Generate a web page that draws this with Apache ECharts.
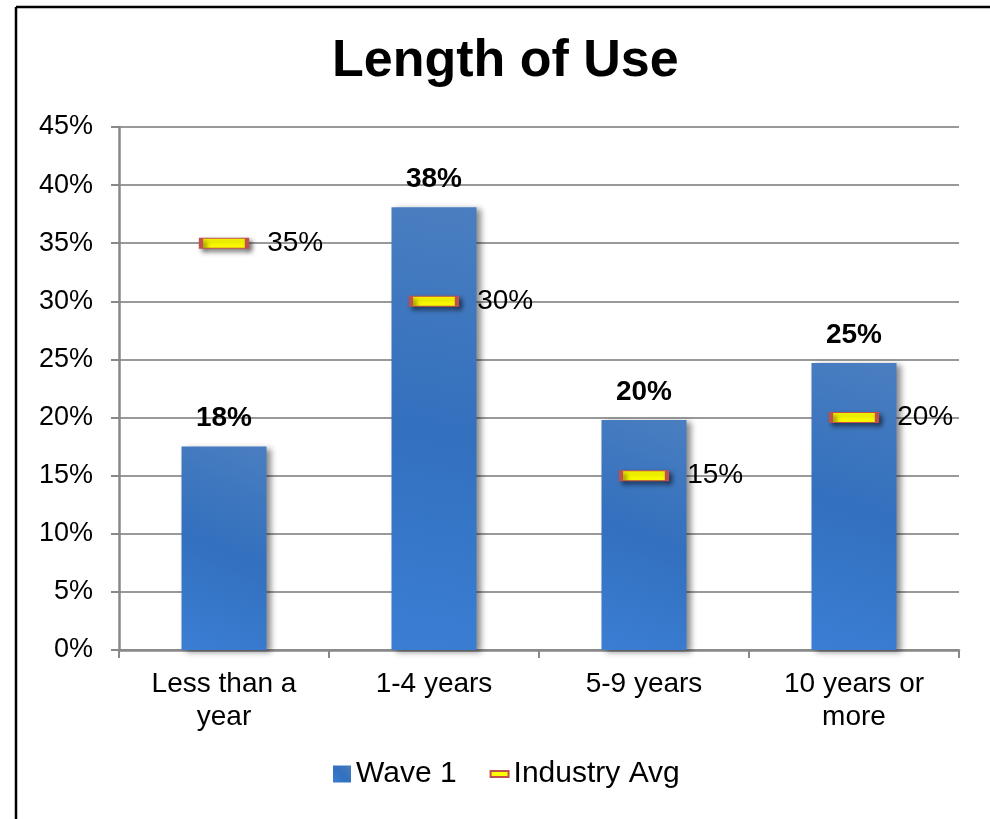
<!DOCTYPE html>
<html>
<head>
<meta charset="utf-8">
<script src="https://cdn.jsdelivr.net/npm/echarts@6/dist/echarts.min.js"></script>
<style>
  html, body { margin: 0; padding: 0; background: #fff; }
  #chart { width: 990px; height: 819px; }
</style>
</head>
<body>
<div id="chart"></div>
<script>
// Survey: how long respondents have used the product
const categories = ['Less than a\nyear', '1-4 years', '5-9 years', '10 years or\nmore'];
const wave1 = [17.5, 38.1, 19.8, 24.7];
const industryAvg = [35, 30, 15, 20];
const yTicks = { min: 0, max: 45, interval: 5 };

const FONT = 'Liberation Sans, Arial, sans-serif';
const chart = echarts.init(document.getElementById('chart'));

chart.setOption({
  backgroundColor: '#ffffff',
  animation: false,
  textStyle: { fontFamily: FONT, color: '#000' },
  title: {
    text: 'Length of Use',
    left: 327,
    top: 31,
    textStyle: { fontFamily: FONT, fontSize: 52, fontWeight: 'bold', color: '#000' }
  },
  grid: { left: 119, right: 31, top: 127, bottom: 169, containLabel: false },
  legend: {
    bottom: 25,
    left: 328,
    itemWidth: 18,
    itemHeight: 17,
    itemGap: 33,
    textStyle: { fontFamily: FONT, fontSize: 30, color: '#000' },
    data: [
      { name: 'Wave 1', icon: 'rect' },
      { name: 'Industry Avg', icon: 'path://M0,0 L30,0 L30,10 L0,10 Z' }
    ]
  },
  xAxis: {
    type: 'category',
    data: categories,
    boundaryGap: true,
    axisLine: { lineStyle: { color: '#888', width: 2.5 } },
    axisTick: { show: true, length: 8, lineStyle: { color: '#888', width: 2 } },
    axisLabel: { fontFamily: FONT, fontSize: 28, color: '#000', lineHeight: 33, margin: 18 }
  },
  yAxis: {
    type: 'value',
    min: yTicks.min,
    max: yTicks.max,
    interval: yTicks.interval,
    axisLine: { show: true, lineStyle: { color: '#888', width: 2.5 } },
    axisTick: { show: true, length: 8, lineStyle: { color: '#888', width: 2 } },
    axisLabel: { fontFamily: FONT, fontSize: 27, color: '#000', margin: 26, formatter: v => v + '%' },
    splitLine: { show: true, lineStyle: { color: '#999', width: 2 } }
  },
  series: [
    {
      name: 'Wave 1',
      type: 'bar',
      data: wave1,
      barWidth: 85,
      itemStyle: {
        opacity: 1,
        color: {
          type: 'linear', x: 0, y: 1, x2: 1, y2: 0,
          colorStops: [
            { offset: 0, color: '#3A7ED4' },
            { offset: 0.5, color: '#3370BE' },
            { offset: 1, color: '#4A7EC0' }
          ]
        },
        shadowColor: 'rgba(0,0,0,0.45)',
        shadowBlur: 6,
        shadowOffsetX: 4,
        shadowOffsetY: 2
      },
      label: {
        show: true,
        position: 'top',
        distance: 14,
        fontFamily: FONT,
        fontSize: 28,
        fontWeight: 'bold',
        color: '#000',
        formatter: p => Math.round(p.value) + '%'
      },
      z: 2
    },
    {
      name: 'Industry Avg',
      type: 'scatter',
      data: industryAvg,
      symbol: 'rect',
      symbolSize: [46, 10],
      itemStyle: {
        opacity: 1,
        color: '#FFFF00',
        borderColor: '#C0504D',
        borderWidth: 2,
        shadowColor: 'rgba(0,0,0,0.5)',
        shadowBlur: 5,
        shadowOffsetX: 3,
        shadowOffsetY: 3
      },
      label: {
        show: true,
        position: 'right',
        distance: 18,
        fontFamily: FONT,
        fontSize: 28,
        color: '#000',
        opacity: 1,
        formatter: p => p.value + '%'
      },
      z: 5
    }
  ],
  graphic: [
    { type: 'line', silent: true, shape: { x1: 16, y1: 7, x2: 990, y2: 7 }, style: { stroke: '#000', lineWidth: 2.5 } },
    { type: 'line', silent: true, shape: { x1: 16, y1: 7, x2: 16, y2: 819 }, style: { stroke: '#000', lineWidth: 2.5 } }
  ]
});
</script>
</body>
</html>
